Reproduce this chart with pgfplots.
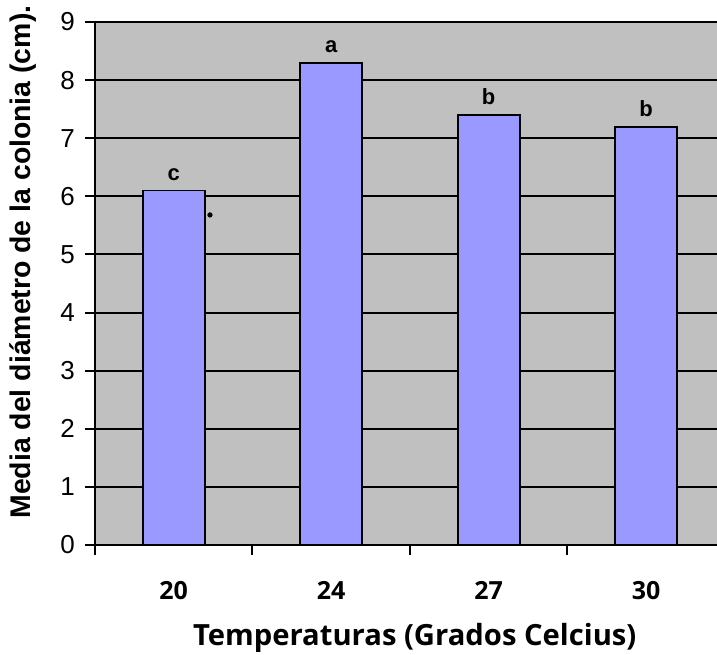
\documentclass[border=0pt]{standalone}
\usepackage{fontspec}
\setmainfont{Liberation Sans}
\newfontfamily\osans{Open Sans}
\usepackage{pgfplots}
\pgfplotsset{compat=1.18}
\definecolor{bggray}{HTML}{C0C0C0}
\definecolor{barblue}{HTML}{9999FF}
\begin{document}
\begin{tikzpicture}
\path[use as bounding box] (0,0) rectangle (358.5pt,327pt);
\begin{axis}[
  at={(47.5pt,54.5pt)}, anchor=south west,
  scale only axis, width=311pt, height=261.5pt,
  xmin=-0.5, xmax=3.45, ymin=0, ymax=9,
  axis x line=bottom, axis y line=left,
  axis line style={-, line width=1pt, black},
  axis background/.style={fill=bggray},
  ymajorgrids, grid style={black, line width=1pt},
  ytick={0,1,2,3,4,5,6,7,8,9},
  xtick={0,1,2,3}, xticklabels={20,24,27,30},
  minor xtick={-0.5,0.5,1.5,2.5,3.5},
  tick align=outside,
  major tick length=5pt, minor tick length=5pt,
  tick style={black, line width=1pt},
  major x tick style={draw=none},
  /pgf/number format/assume math mode=true,
  yticklabel style={font=\fontsize{13}{14}\selectfont, xshift=-1.5pt},
  xticklabel style={font=\osans\bfseries\fontsize{12.5}{13}\selectfont, yshift=-9.5pt},
  xlabel={Temperaturas (Grados Celcius)},
  xlabel style={at={(axis description cs:0.514,-0.178)}, anchor=center, font=\osans\bfseries\fontsize{14.6}{16}\selectfont},
  ylabel={Media del diámetro de la colonia (cm).},
  ylabel style={at={(axis description cs:-0.116,0.541)}, anchor=center, font=\bfseries\fontsize{14.2}{15}\selectfont},
]
\addplot[ybar, bar width=31pt, fill=barblue, draw=black, line width=0.9pt,
  nodes near coords, point meta=explicit symbolic,
  nodes near coords style={font=\bfseries\fontsize{11}{12}\selectfont, anchor=base, yshift=5pt, inner sep=0pt, black}]
  coordinates {(0,6.1)[c] (1,8.3)[a] (2,7.4)[b] (3,7.2)[b]};
\addplot[only marks, mark=*, mark size=1.1pt, black] coordinates {(0.23,5.68)};
\end{axis}
\end{tikzpicture}
\end{document}
